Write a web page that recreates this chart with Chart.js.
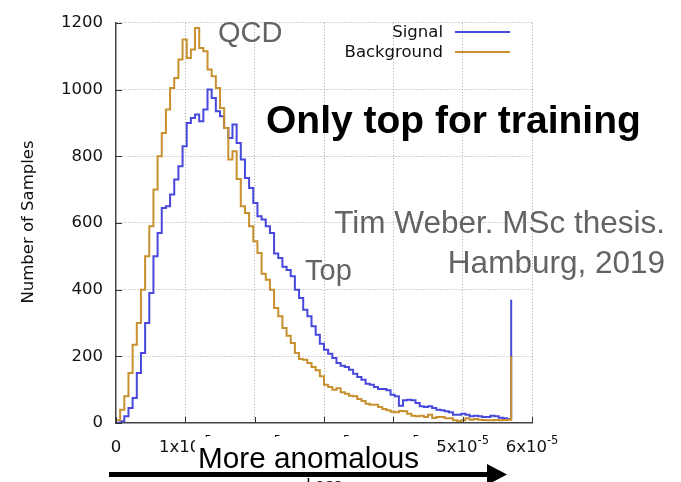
<!DOCTYPE html>
<html>
<head>
<meta charset="utf-8">
<script src="https://cdn.jsdelivr.net/npm/chart.js@4.4.1/dist/chart.umd.min.js"></script>
<style>
  html, body { margin: 0; padding: 0; background: #fff; }
  #wrap { width: 681px; height: 482px; position: relative; overflow: hidden; }
</style>
</head>
<body>
<div id="wrap"><canvas id="lossChart"></canvas></div>
<script>
// histogram of the loss, 95 bins of 0.06e-5 starting at 0, last entry is the overflow spike
const binWidth = 0.06e-5;

const signalCounts = [
    0, 5, 20, 45, 75, 150, 210, 300, 390, 500,
    570, 645, 650, 685, 730, 770, 830, 900, 915, 925,
    905, 940, 1000, 975, 935, 920, 885, 855, 895, 840,
    790, 735, 705, 660, 620, 610, 590, 570, 508, 495,
    469, 459, 440, 400, 375, 340, 320, 290, 265, 238,
    220, 208, 195, 180, 172, 168, 160, 148, 138, 130,
    118, 115, 108, 102, 102, 98, 85, 80, 52, 68,
    70, 68, 60, 50, 48, 50, 45, 40, 38, 35,
    32, 25, 25, 28, 25, 20, 22, 20, 18, 18,
    22, 20, 16, 14, 12
];
const signalOverflow = 370;

const backgroundCounts = [
    8, 40, 80, 150, 235, 300, 400, 500, 590, 700,
    800, 870, 940, 1005, 1035, 1090, 1150, 1095, 1120, 1185,
    1125, 1115, 1060, 1040, 1005, 945, 885, 790, 815, 732,
    650, 630, 590, 545, 510, 448, 430, 400, 345, 320,
    285, 262, 240, 210, 192, 190, 180, 168, 158, 140,
    115, 108, 100, 104, 92, 88, 82, 80, 72, 66,
    58, 55, 55, 48, 42, 38, 34, 32, 36, 35,
    28, 22, 20, 22, 18, 25, 15, 18, 18, 14,
    14, 8, 6, 8, 14, 10, 12, 10, 9, 8,
    8, 9, 8, 9, 10
];
const backgroundOverflow = 200;

const seriesNames = ['Signal', 'Background'];
const seriesColors = ['#4848dc', '#c8902e'];

const xTickBases = ['0', '1x10', '2x10', '3x10', '4x10', '5x10', '6x10'];
const xTickExponent = '-5';
const xStep = 1e-5;
const yStep = 200;

const TICK_FONT = '"DejaVu Sans", sans-serif';
const NOTE_FONT = '"Liberation Sans", Arial, sans-serif';

function toPoints(counts, overflow) {
    const pts = [{ x: 0, y: 0 }];
    counts.forEach((c, i) => pts.push({ x: i * binWidth, y: c }));
    pts.push({ x: counts.length * binWidth, y: overflow });
    return pts;
}

const overlay = {
    id: 'overlay',
    afterDraw(chart) {
        const ctx = chart.ctx;
        const xs = chart.scales.x;
        const ys = chart.scales.y;
        const area = chart.chartArea;
        ctx.save();

        // inward tick marks like gnuplot
        ctx.strokeStyle = '#333';
        ctx.lineWidth = 1;
        ys.ticks.forEach(t => {
            const py = Math.round(ys.getPixelForValue(t.value)) + 0.5;
            ctx.beginPath();
            ctx.moveTo(area.left, py);
            ctx.lineTo(area.left + 6, py);
            ctx.stroke();
        });
        xs.ticks.forEach(t => {
            const px = Math.round(xs.getPixelForValue(t.value)) + 0.5;
            ctx.beginPath();
            ctx.moveTo(px, area.bottom);
            ctx.lineTo(px, area.bottom - 6);
            ctx.stroke();
        });

        // x tick labels with superscript exponent
        ctx.fillStyle = '#111';
        ctx.textBaseline = 'alphabetic';
        xs.ticks.forEach((t, i) => {
            const px = xs.getPixelForValue(t.value);
            const base = xTickBases[i];
            if (base === undefined) return;
            ctx.font = '16.5px ' + TICK_FONT;
            if (base === '0') {
                ctx.textAlign = 'center';
                ctx.fillText(base, px, 452);
                return;
            }
            const bw = ctx.measureText(base).width;
            ctx.font = '11.5px ' + TICK_FONT;
            const ew = ctx.measureText(xTickExponent).width;
            const x0 = px - (bw + ew) / 2;
            ctx.textAlign = 'left';
            ctx.font = '16.5px ' + TICK_FONT;
            ctx.fillText(base, x0, 452);
            ctx.font = '11.5px ' + TICK_FONT;
            ctx.fillText(xTickExponent, x0 + bw, 444);
        });

        // axis titles
        ctx.font = '16.5px ' + TICK_FONT;
        ctx.textAlign = 'center';
        ctx.fillText('Loss', (area.left + area.right) / 2, 490);
        ctx.save();
        ctx.translate(29, 222);
        ctx.rotate(-Math.PI / 2);
        ctx.textBaseline = 'middle';
        ctx.fillText('Number of Samples', 0, 0);
        ctx.restore();

        // legend
        ctx.font = '16.5px ' + TICK_FONT;
        ctx.textAlign = 'right';
        ctx.textBaseline = 'middle';
        seriesNames.forEach((name, i) => {
            const ly = 32 + i * 20;
            ctx.fillStyle = '#111';
            ctx.fillText(name, 443, ly + 1);
            ctx.strokeStyle = seriesColors[i];
            ctx.lineWidth = 2;
            ctx.beginPath();
            ctx.moveTo(455, ly);
            ctx.lineTo(510, ly);
            ctx.stroke();
        });

        // slide annotations
        ctx.textBaseline = 'alphabetic';
        ctx.fillStyle = '#636363';
        ctx.textAlign = 'left';
        ctx.font = '29px ' + NOTE_FONT;
        ctx.fillText('QCD', 218, 42);
        ctx.fillText('Top', 305, 280);
        ctx.textAlign = 'right';
        ctx.font = '31.5px ' + NOTE_FONT;
        ctx.fillText('Tim Weber. MSc thesis.', 665, 233);
        ctx.fillText('Hamburg, 2019', 665, 273);

        ctx.fillStyle = '#000';
        ctx.textAlign = 'left';
        ctx.font = 'bold 39px ' + NOTE_FONT;
        ctx.fillText('Only top for training', 266, 133);

        // "More anomalous" box covering the middle tick labels
        ctx.fillStyle = '#fff';
        ctx.fillRect(195, 437, 230, 35);
        ctx.fillStyle = '#000';
        ctx.font = '29.7px ' + NOTE_FONT;
        ctx.fillText('More anomalous', 198, 468);

        // arrow
        ctx.strokeStyle = '#000';
        ctx.lineWidth = 5;
        ctx.beginPath();
        ctx.moveTo(109, 474.5);
        ctx.lineTo(490, 474.5);
        ctx.stroke();
        ctx.beginPath();
        ctx.moveTo(487, 464);
        ctx.lineTo(507, 474.5);
        ctx.lineTo(487, 485);
        ctx.closePath();
        ctx.fill();

        ctx.restore();
    }
};

const gridColor = (c) => (c.tick && c.tick.value === 0) ? 'rgba(0,0,0,0)' : '#a8a8a8';

new Chart(document.getElementById('lossChart'), {
    type: 'line',
    data: {
        datasets: [{
            label: seriesNames[0],
            data: toPoints(signalCounts, signalOverflow),
            borderColor: seriesColors[0],
            borderWidth: 2,
            stepped: true,
            pointRadius: 0,
            fill: false,
            order: 1
        }, {
            label: seriesNames[1],
            data: toPoints(backgroundCounts, backgroundOverflow),
            borderColor: seriesColors[1],
            borderWidth: 2,
            stepped: true,
            pointRadius: 0,
            fill: false,
            order: 0
        }]
    },
    options: {
        responsive: true,
        maintainAspectRatio: false,
        animation: false,
        layout: { padding: { top: 14, right: 149, bottom: 0, left: 0 } },
        plugins: {
            legend: { display: false },
            tooltip: { enabled: false }
        },
        scales: {
            x: {
                type: 'linear',
                min: 0,
                max: 6e-5,
                ticks: { display: false, stepSize: xStep },
                grid: { color: gridColor, drawTicks: false, lineWidth: 1 },
                border: { display: true, color: '#444', width: 1.5, dash: [1, 2] },
                afterFit: (s) => { s.height = 59; }
            },
            y: {
                min: 0,
                max: 1200,
                ticks: {
                    stepSize: yStep,
                    padding: 13,
                    color: '#111',
                    font: { family: 'DejaVu Sans', size: 16.5 },
                    callback: (v) => String(v)
                },
                grid: { color: gridColor, drawTicks: false, lineWidth: 1 },
                border: { display: true, color: '#444', width: 1.5, dash: [1, 2] },
                afterFit: (s) => { s.width = 116; }
            }
        }
    },
    plugins: [overlay]
});
</script>
</body>
</html>
